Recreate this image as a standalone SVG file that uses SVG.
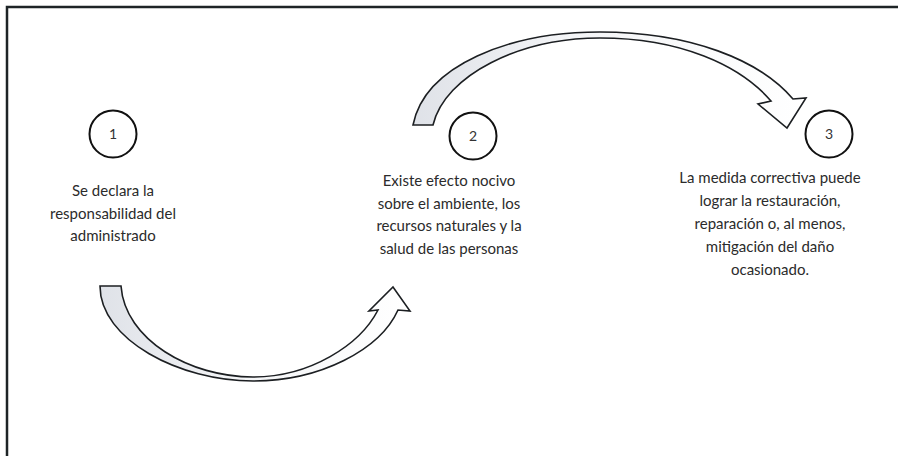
<svg xmlns="http://www.w3.org/2000/svg" width="898" height="456" viewBox="0 0 898 456">
<defs>
<linearGradient id="gBot" x1="100" y1="0" x2="410" y2="0" gradientUnits="userSpaceOnUse">
<stop offset="0" stop-color="#dfe2e8"/><stop offset="0.45" stop-color="#f4f5f7"/><stop offset="1" stop-color="#ffffff"/>
</linearGradient>
<linearGradient id="gTop" x1="413" y1="0" x2="806" y2="0" gradientUnits="userSpaceOnUse">
<stop offset="0" stop-color="#dfe2e8"/><stop offset="0.4" stop-color="#f4f5f7"/><stop offset="1" stop-color="#ffffff"/>
</linearGradient>
</defs>
<style>
.frame{fill:none;stroke:#1e2426;stroke-width:2.5}
.num{fill:#fff;stroke:#111;stroke-width:2}
.numt{font-family:Lato,"Liberation Sans",sans-serif;font-size:14px;fill:#333;text-anchor:middle}
.lbl{font-family:Lato,"Liberation Sans",sans-serif;font-size:15px;fill:#2b2b2b;text-anchor:middle}
.arrow{stroke:#1c1f22;stroke-width:1.6;stroke-linejoin:miter}
</style>
<rect width="898" height="456" fill="#fff"/>
<path class="frame" d="M7,456 V7 H898"/>
<g id="connectors">
<path class="arrow" fill="url(#gBot)" d="M100,286 C100,340 180,381 253,381 C320,381 380,350 398,310 L410,311 L393,287 L369,311 L378,310 C360,345 310,377 253,377 C190,377 125,340 121,286 Z"/>
<path class="arrow" fill="url(#gTop)" d="M413,125 C425,65 510,32 600,32 C690,32 760,60 793,99 L806,98 L787,128 L758,104 L771,101 C740,65 680,38 600,38 C520,38 445,75 433,125 Z"/>
</g>
<g id="node1">
<circle class="num" cx="113" cy="134" r="23.5"/>
<text class="numt" x="113" y="139">1</text>
<text class="lbl" x="113" y="196">Se declara la</text>
<text class="lbl" x="113" y="219">responsabilidad del</text>
<text class="lbl" x="113" y="241">administrado</text>
</g>
<g id="node2">
<circle class="num" cx="473" cy="136" r="23.5"/>
<text class="numt" x="473" y="141">2</text>
<text class="lbl" x="449" y="186">Existe efecto nocivo</text>
<text class="lbl" x="449" y="209">sobre el ambiente, los</text>
<text class="lbl" x="449" y="231">recursos naturales y la</text>
<text class="lbl" x="449" y="254">salud de las personas</text>
</g>
<g id="node3">
<circle class="num" cx="829" cy="134" r="23.5"/>
<text class="numt" x="829" y="139">3</text>
<text class="lbl" x="770" y="183">La medida correctiva puede</text>
<text class="lbl" x="770" y="206">lograr la restauración,</text>
<text class="lbl" x="770" y="229">reparación o, al menos,</text>
<text class="lbl" x="770" y="252">mitigación del daño</text>
<text class="lbl" x="770" y="275">ocasionado.</text>
</g>
</svg>
